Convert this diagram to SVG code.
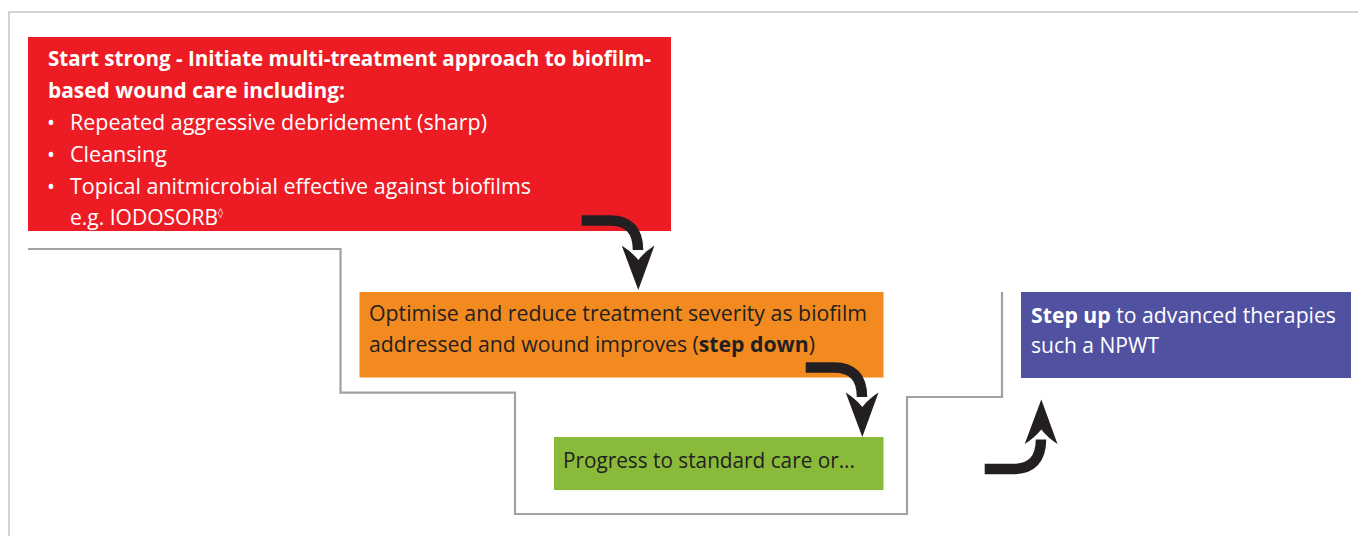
<svg xmlns="http://www.w3.org/2000/svg" xmlns:xlink="http://www.w3.org/1999/xlink" width="1358" height="536" viewBox="0 0 1358 536">
<style>
  .t { font-family: "Open Sans", "Liberation Sans", sans-serif; font-size: 21px; }
  .w { fill: #ffffff; }
  .d { fill: #231f20; }
  .b { font-weight: bold; }
  .frame { fill: none; stroke: #c8c8c8; stroke-width: 1.6; }
  .step { fill: none; stroke: #a0a1a5; stroke-width: 2.2; }
  .ar { fill: #231f20; }
  .sh { fill: none; stroke: #231f20; stroke-width: 10.5; }
</style>
<defs>
  <g id="arrow">
    <path class="sh" d="M581.7,220.5 H610 Q638,220.5 638,250"/>
    <path class="ar" d="M638.3,290 L621.7,245.5 Q632,252 638.3,260 Q644.5,252 654.5,245.5 Z"/>
  </g>
</defs>
<rect width="1358" height="536" fill="#ffffff"/>
<path class="frame" d="M9,536 V12 H1358"/>
<g id="node-start">
  <rect x="28" y="37" width="643" height="194" fill="#ed1c24"/>
  <text class="t w b" x="48" y="66" textLength="603" lengthAdjust="spacingAndGlyphs">Start strong - Initiate multi-treatment approach to biofilm-</text>
  <text class="t w b" x="48" y="97.5" textLength="297" lengthAdjust="spacingAndGlyphs">based wound care including:</text>
  <text class="t w" x="51" y="130" text-anchor="middle">•</text>
  <text class="t w" x="70" y="130" textLength="417" lengthAdjust="spacingAndGlyphs">Repeated aggressive debridement (sharp)</text>
  <text class="t w" x="51" y="162" text-anchor="middle">•</text>
  <text class="t w" x="70" y="162" textLength="97" lengthAdjust="spacingAndGlyphs">Cleansing</text>
  <text class="t w" x="51" y="193.5" text-anchor="middle">•</text>
  <text class="t w" x="70" y="193.5" textLength="461" lengthAdjust="spacingAndGlyphs">Topical anitmicrobial effective against biofilms</text>
  <text class="t w" x="70" y="224.5"><tspan textLength="148" lengthAdjust="spacingAndGlyphs">e.g. IODOSORB</tspan><tspan font-size="10" dy="-9" font-family="DejaVu Sans, sans-serif">◊</tspan></text>
</g>
<g id="node-stepdown">
  <rect x="359.5" y="292" width="524" height="85.5" fill="#f28a1f"/>
  <text class="t d" x="369" y="321" textLength="498" lengthAdjust="spacingAndGlyphs">Optimise and reduce treatment severity as biofilm</text>
  <text class="t d" x="369" y="352" textLength="446" lengthAdjust="spacingAndGlyphs">addressed and wound improves (<tspan class="b">step down</tspan>)</text>
</g>
<g id="node-standard">
  <rect x="554" y="437" width="329.5" height="53" fill="#8aba3a"/>
  <text class="t d" x="563" y="467.5" textLength="292" lengthAdjust="spacingAndGlyphs">Progress to standard care or...</text>
</g>
<g id="node-stepup">
  <rect x="1021" y="292" width="330" height="86" fill="#5151a1"/>
  <text class="t w" x="1031" y="322.5" textLength="305" lengthAdjust="spacingAndGlyphs"><tspan class="b">Step up</tspan> to advanced therapies</text>
  <text class="t w" x="1031" y="353" textLength="128" lengthAdjust="spacingAndGlyphs">such a NPWT</text>
</g>
<g id="connectors">
  <path class="step" d="M28,249 H340.5 V392.7 H515 V514 H907 V397 H1002 V292"/>
  <use xlink:href="#arrow"/>
  <use xlink:href="#arrow" transform="translate(224,147)"/>
  <use xlink:href="#arrow" transform="translate(403,689.5) scale(1,-1)"/>
</g>
</svg>
